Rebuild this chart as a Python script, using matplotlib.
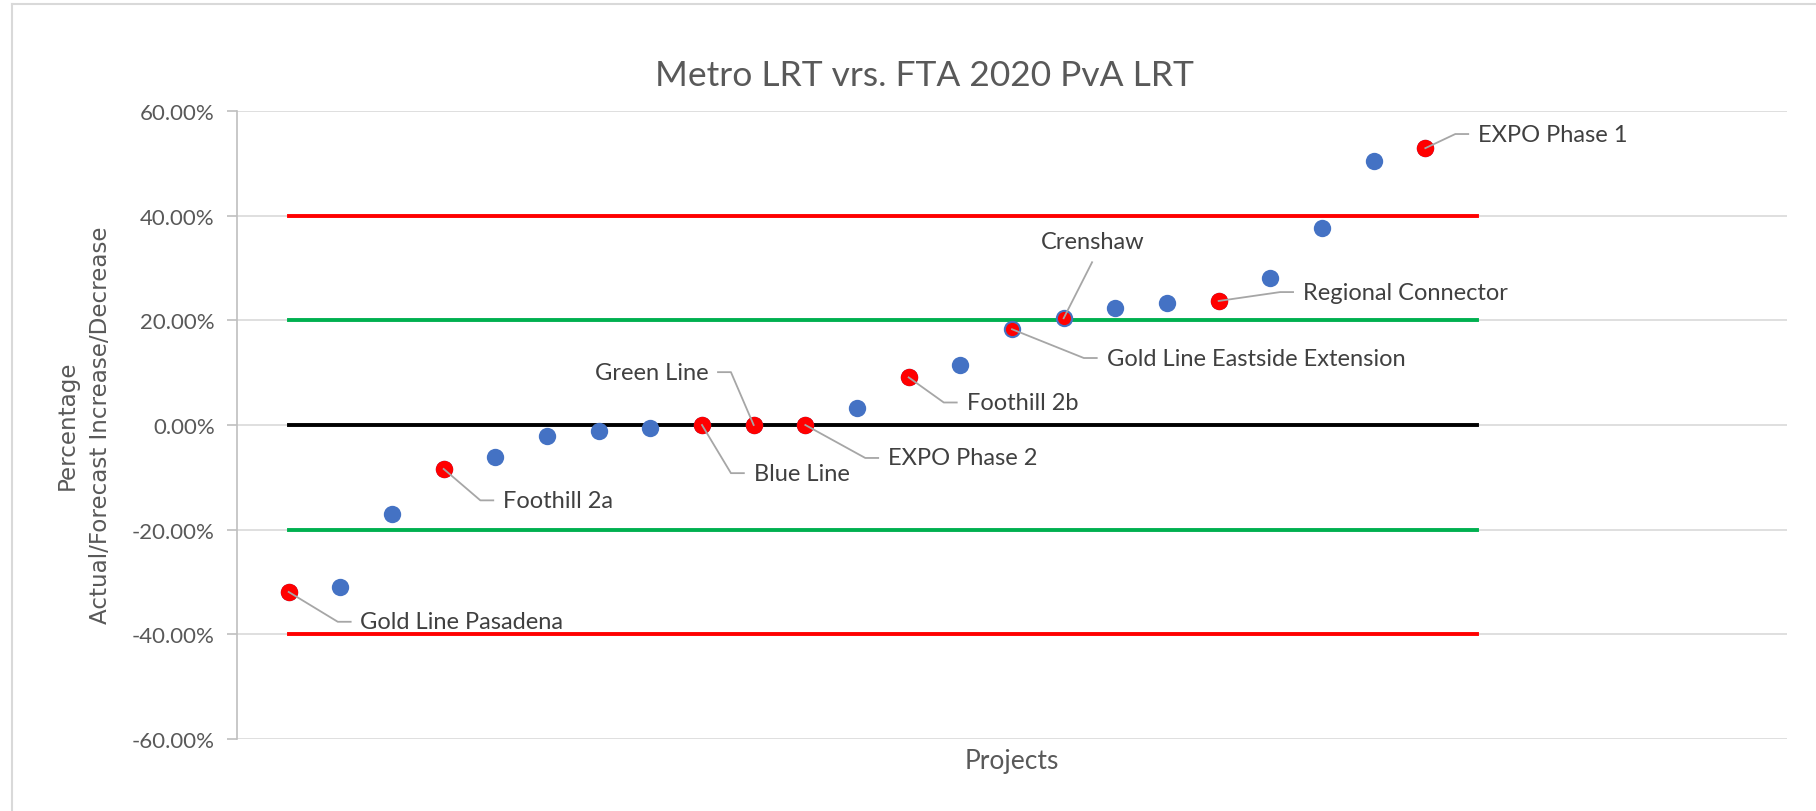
import matplotlib
matplotlib.use("Agg")
import matplotlib.pyplot as plt
from matplotlib.lines import Line2D
import numpy as np

# project values, ordered (percent)
values = [-31.9, -31.0, -17.0, -8.4, -6.1, -2.1, -1.2, -0.6, 0.0, 0.0, 0.0, 3.2,
          9.1, 11.5, 18.3, 20.4, 22.4, 23.3, 23.7, 28.1, 37.6, 50.4, 52.9]

# labelled projects: 1-based position in the list above
labelled = [1, 4, 9, 10, 11, 13, 15, 16, 19, 23]
names = ["Gold Line Pasadena", "Foothill 2a", "Blue Line", "Green Line",
         "EXPO Phase 2", "Foothill 2b", "Gold Line Eastside Extension",
         "Crenshaw", "Regional Connector", "EXPO Phase 1"]

# threshold lines
limit_x = np.arange(1, 25)
limit_vals = [40, 20, 0, -20, -40]
limit_cols = ["#FF0000", "#00B050", "#000000", "#00B050", "#FF0000"]

yticks = [-60, -40, -20, 0, 20, 40, 60]

# label placement (text x, text y, alignment)
label_pos = [
    (2.39, -37.6, "left"),
    (5.15, -14.4, "left"),
    (10.0, -9.2, "left"),
    (9.12, 10.1, "right"),
    (12.6, -6.3, "left"),
    (14.12, 4.3, "left"),
    (16.83, 12.8, "left"),
    (16.57, 35.0, "center"),
    (20.63, 25.4, "left"),
    (24.02, 55.6, "left"),
]

plt.rcParams["font.family"] = ["Lato", "DejaVu Sans"]
txt = "#595959"
fig = plt.figure(figsize=(18.16, 8.12), dpi=100)
ax = fig.add_axes([237 / 1816, 1 - 740 / 812, (1787 - 237) / 1816, (740 - 112) / 812])

ax.set_xlim(0, 30)
ax.set_ylim(-60, 60)
ax.set_yticks(yticks)
ax.set_yticklabels(["{:.2f}%".format(v) for v in yticks], fontsize=16, color=txt)
ax.set_xticks([])
ax.grid(axis="y", color="#D9D9D9", linewidth=1.2)
ax.set_axisbelow(True)
for s in ["top", "right", "bottom"]:
    ax.spines[s].set_visible(False)
ax.spines["left"].set_color("#BFBFBF")
ax.spines["left"].set_linewidth(1.2)
ax.tick_params(axis="y", color="#BFBFBF", length=7, width=1.2, pad=9)

for v, c in zip(limit_vals, limit_cols):
    ax.plot(limit_x, [v] * len(limit_x), color=c, linewidth=2.8, zorder=2)

xs = np.arange(1, len(values) + 1)
ax.plot(xs, values, "o", color="#4472C4", markersize=12.5, markeredgewidth=0, zorder=3)

for i, nm, (tx, ty, ha) in zip(labelled, names, label_pos):
    px, py = i, values[i - 1]
    small = nm in ("Gold Line Eastside Extension", "Crenshaw")
    ax.plot(px, py, "o", color="#FF0000", markersize=9.5 if small else 12.5,
            markeredgewidth=0, zorder=4)
    if ha == "left":
        lx = [px, tx - 0.44, tx - 0.19]
        ly = [py, ty, ty]
    elif ha == "right":
        lx = [px, tx + 0.44, tx + 0.19]
        ly = [py, ty, ty]
    else:
        lx = [px, tx - 0.02]
        ly = [py, ty - 3.9]
    ax.plot(lx, ly, color="#A6A6A6", linewidth=1.3, zorder=5)
    ax.text(tx, ty, nm, ha=ha, va="center", fontsize=17, color="#404040", zorder=6)

fig.text(924 / 1816, 1 - 76 / 812, "Metro LRT vrs. FTA 2020 PvA LRT", ha="center",
         va="center", fontsize=25.5, color=txt)
fig.text(84 / 1816, 1 - 425 / 812, "Percentage\nActual/Forecast Increase/Decrease",
         rotation=90, ha="center", va="center", multialignment="center",
         fontsize=16.6, color=txt, family="DejaVu Sans", linespacing=1.6)
fig.text(1012 / 1816, 1 - 762 / 812, "Projects", ha="center", va="center",
         fontsize=19, color=txt)

# chart area border
fig.add_artist(Line2D([12 / 1816, 1], [1 - 5 / 812, 1 - 5 / 812], color="#D9D9D9", linewidth=1.5))
fig.add_artist(Line2D([12 / 1816, 12 / 1816], [0, 1 - 5 / 812], color="#D9D9D9", linewidth=1.5))

fig.savefig("out.png", dpi=100)
